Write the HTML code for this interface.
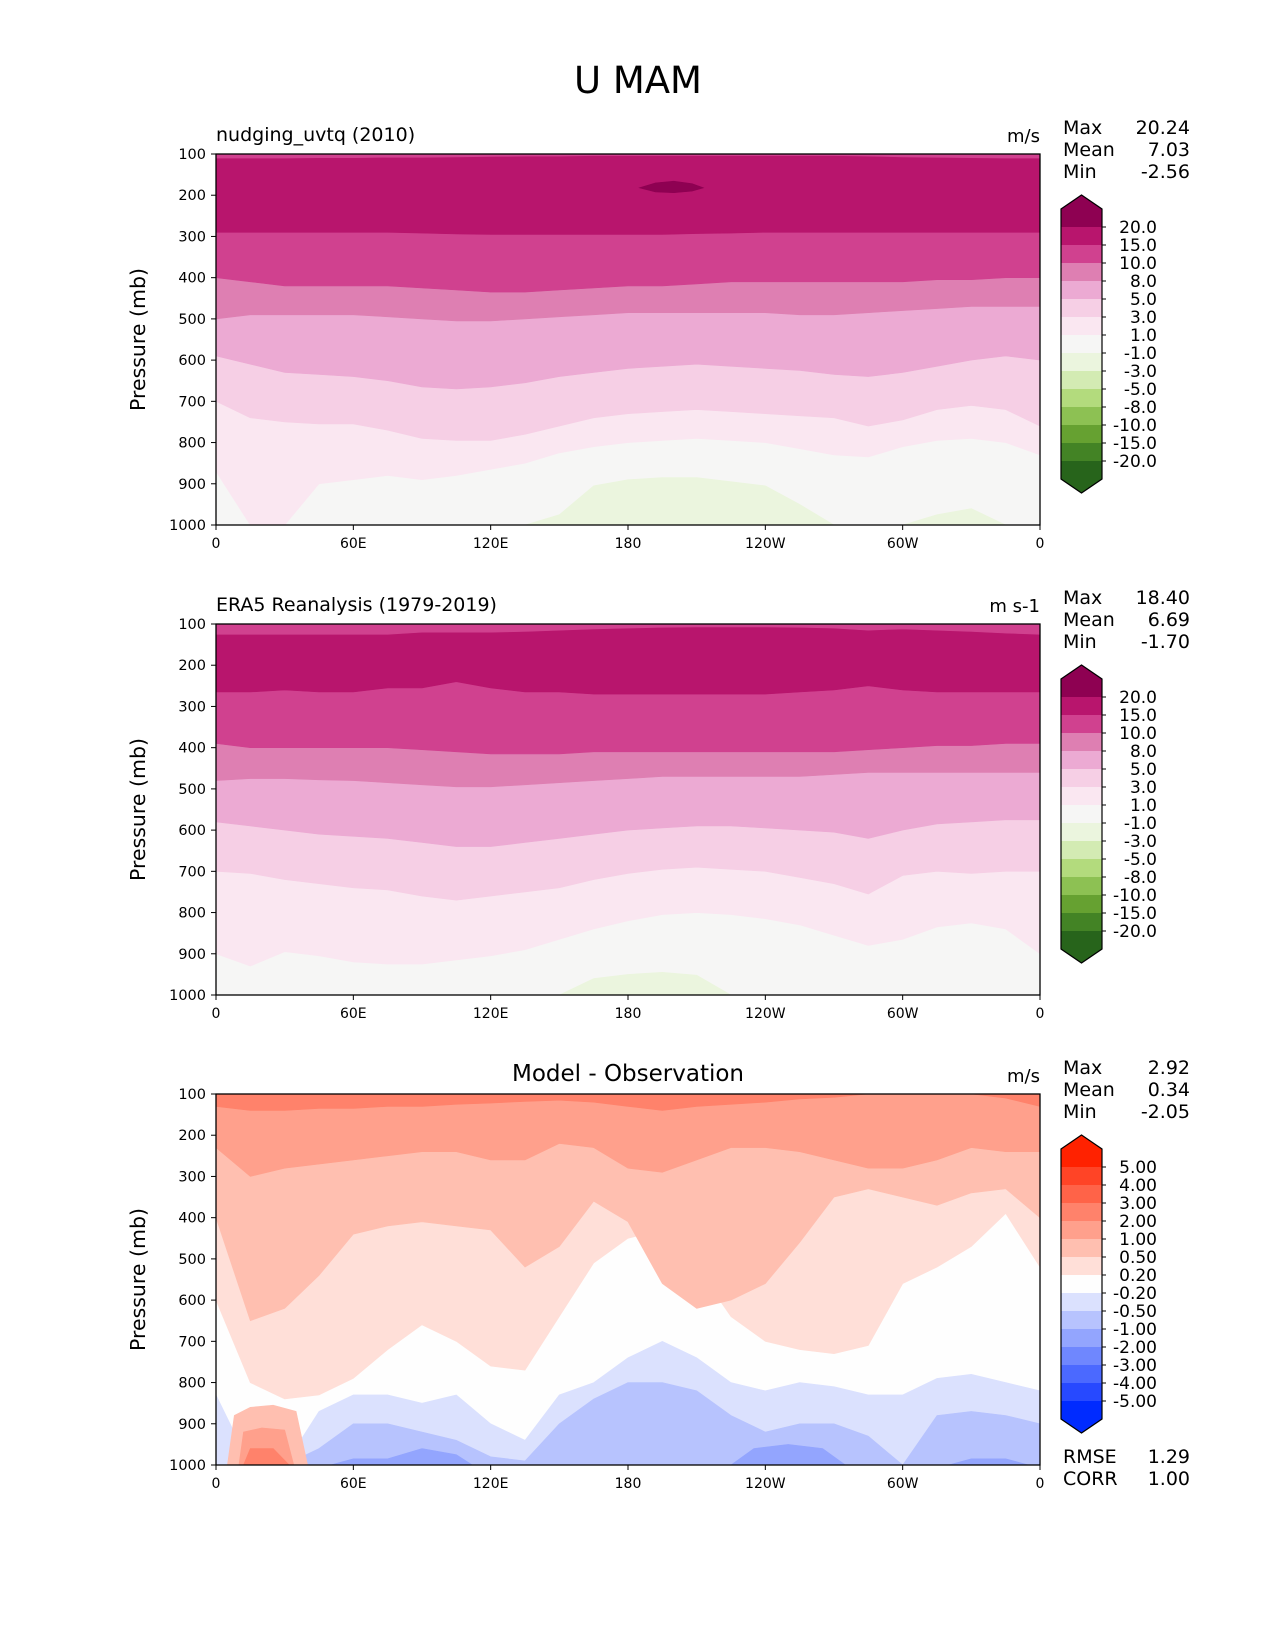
<!DOCTYPE html>
<html><head><meta charset="utf-8"><style>
html,body{margin:0;padding:0;background:#fff}
svg{display:block;font-family:"DejaVu Sans","Liberation Sans",sans-serif}
</style></head><body>
<svg id="fig" width="1275" height="1650" viewBox="0 0 1275 1650" xmlns="http://www.w3.org/2000/svg">
<rect x="0" y="0" width="1275" height="1650" fill="#fff"/>
<text x="638" y="93" font-size="37" text-anchor="middle">U MAM</text>
</svg>
<script>
// ---------- data ----------
const LON15 = [0,15,30,45,60,75,90,105,120,135,150,165,180,195,210,225,240,255,270,285,300,315,330,345,360];
const TOP100 = [100,100,100,100,100,100,100,100,100,100,100,100,100,100,100,100,100,100,100,100,100,100,100,100,100];
const BOT1000 = [1000,1000,1000,1000,1000,1000,1000,1000,1000,1000,1000,1000,1000,1000,1000,1000,1000,1000,1000,1000,1000,1000,1000,1000,1000];

// panel 1: model contours (pressure of each contour at LON15)
const m_green = [1000,1000,1000,1000,1000,1000,1000,1000,1000,1000,975,905,890,885,885,895,905,950,1000,1000,1000,975,960,1000,1000];
const m_c1  = [870,1000,1000,900,890,880,890,880,865,850,825,810,800,795,790,795,800,815,830,835,810,795,790,800,830];
const m_c3  = [700,740,750,755,755,770,790,795,795,780,760,740,730,725,720,725,730,735,740,760,745,720,710,720,760];
const m_c5  = [590,610,630,635,640,650,665,670,665,655,640,630,620,615,610,615,620,625,635,640,630,615,600,590,600];
const m_c8  = [500,490,490,490,490,495,500,505,505,500,495,490,485,485,485,485,485,490,490,485,480,475,470,470,470];
const m_c10 = [400,410,420,420,420,420,425,430,435,435,430,425,420,420,415,410,410,410,410,410,410,405,405,400,400];
const m_c15 = [290,290,290,290,290,290,292,294,295,295,295,295,295,295,293,292,290,290,290,290,290,290,290,290,290];
const m_c15top = [110,110,110,109,109,108,108,107,106,105,105,104,104,104,104,104,104,104,104,105,107,108,109,110,110];
const m_jetLon = [185,192,200,208,213];
const m_jetUp  = [182,170,166,172,182];
const m_jetLow = [182,192,194,190,182];

// panel 2: ERA5 contours
const o_greenLon = [150,165,180,195,210,225];
const o_green = [1000,960,950,945,952,1000];
const o_c1  = [900,930,895,905,920,925,925,915,905,890,865,840,820,805,800,805,815,830,855,880,865,835,825,840,900];
const o_c3  = [700,705,720,730,740,745,760,770,760,750,740,720,705,695,690,695,700,715,730,755,710,700,705,700,700];
const o_c5  = [580,590,600,610,615,620,630,640,640,630,620,610,600,595,590,590,595,600,605,620,600,585,580,575,575];
const o_c8  = [480,475,475,478,480,485,490,495,495,490,485,480,475,470,470,470,470,470,465,460,460,460,460,460,460];
const o_c10 = [390,400,400,400,400,400,405,410,415,415,415,410,410,410,410,410,410,410,410,405,400,395,395,390,390];
const o_c15 = [265,265,260,265,265,255,255,240,255,265,265,270,270,270,270,270,270,265,260,250,260,265,265,265,265];
const o_c15top = [125,125,125,125,125,125,120,120,120,118,115,112,110,108,107,107,107,108,110,115,112,115,118,122,125];

// panel 3: difference contours
const d_c2  = [130,140,140,135,135,130,130,125,122,118,115,120,130,140,130,125,120,112,108,100,100,100,100,110,130];
const d_c1  = [230,300,280,270,260,250,240,240,260,260,220,230,280,290,260,230,230,240,260,280,280,260,230,240,240];
const d_c05 = [400,650,620,540,440,420,410,420,430,520,470,360,410,560,620,600,560,460,350,330,350,370,340,330,400];
const d_c02 = [600,800,840,830,790,720,660,700,760,770,640,510,450,430,520,640,700,720,730,710,560,520,470,390,520];
const d_b02 = [830,1000,1000,870,830,830,850,830,900,940,830,800,740,700,740,800,820,800,810,830,830,790,780,800,820];
const d_b05 = [1000,1000,1000,960,900,900,920,940,980,990,900,840,800,800,820,880,920,900,900,930,1000,880,870,880,900];
const d_b1aLon = [50,60,75,90,105,112];
const d_b1a = [1000,985,985,960,975,1000];
const d_b1bLon = [225,235,250,265,275];
const d_b1b = [1000,960,950,960,1000];
const d_b1cLon = [320,330,345,355];
const d_b1c = [1000,985,985,1000];
const d_r05Lon = [5,8,15,25,35,40];
const d_r05 = [1000,880,860,855,870,1000];
const d_r1Lon = [10,12,20,30,34];
const d_r1 = [1000,920,910,915,1000];
const d_r2Lon = [12,15,25,32];
const d_r2 = [1000,960,960,1000];

// colorbars
const pinkColors = ["#8e0152","#b8156d","#d0418f","#de7fb2","#ecaad3","#f6cfe5","#fae7f1","#f6f6f5","#ebf5de","#d3ebb3","#b3db7d","#8dc153","#66a131","#438325","#27641b"];
const pinkLabels = ["20.0","15.0","10.0","8.0","5.0","3.0","1.0","-1.0","-3.0","-5.0","-8.0","-10.0","-15.0","-20.0"];
const diffColors = ["#ff2200","#ff4426","#ff6348","#ff826b","#ffa08c","#ffbfb0","#ffdfd8","#fefefe","#dbe1fe","#b7c3fe","#93a5fe","#6f87fe","#4b69ff","#2749ff","#002bff"];
const diffLabels = ["5.00","4.00","3.00","2.00","1.00","0.50","0.20","-0.20","-0.50","-1.00","-2.00","-3.00","-4.00","-5.00"];

const yTicks = [100,200,300,400,500,600,700,800,900,1000];
const xTicks = [0,60,120,180,240,300,360];
const xTickLabels = ["0","60E","120E","180","120W","60W","0"];

const statsNames = ["Max","Mean","Min"];
const stats1 = ["20.24","7.03","-2.56"];
const stats2 = ["18.40","6.69","-1.70"];
const stats3 = ["2.92","0.34","-2.05"];
const extraNames = ["RMSE","CORR"];
const extraVals = ["1.29","1.00"];

// ---------- drawing ----------
const NS = "http://www.w3.org/2000/svg";
const svg = document.getElementById("fig");
const X0 = 216, XW = 824, PH = 371;
function px(lon){ return X0 + lon/360*XW; }
function py(p, top){ return top + (p-100)/900*PH; }
function mk(tag, attrs, parent){
  const e = document.createElementNS(NS, tag);
  for (const k in attrs) e.setAttribute(k, attrs[k]);
  (parent||svg).appendChild(e);
  return e;
}
function band(g, top, lons, upper, lower, color, name){
  let d = "";
  for (let i=0;i<lons.length;i++) d += (i?"L":"M") + px(lons[i]).toFixed(1) + "," + py(upper[i],top).toFixed(1);
  for (let i=lons.length-1;i>=0;i--) d += "L" + px(lons[i]).toFixed(1) + "," + py(lower[i],top).toFixed(1);
  d += "Z";
  const p = mk("path", {d:d, fill:color, stroke:color, "stroke-width":"0.6"}, g);
  
  
}
function bottomOf(arr){ return arr.map(()=>1000); }

function panel(idx, top, layers, title, units, centerTitle, colors, labels, statVals, extra){
  const g = mk("g", {});
  
  
  const clipId = "clip"+idx;
  const cp = mk("clipPath", {id:clipId}, g);
  mk("rect", {x:X0, y:top, width:XW, height:PH}, cp);
  const pg = mk("g", {"clip-path":"url(#"+clipId+")"}, g);
  
  
  const bg = mk("rect", {x:X0, y:top, width:XW, height:PH, fill:layers.base}, pg);
  
  
  layers.list.forEach(L => band(pg, top, L[0], L[1], L[2], L[3], L[4]));
  const fr = mk("rect", {x:X0, y:top, width:XW, height:PH, fill:"none", stroke:"#000", "stroke-width":"1.3"}, g);
  
  
  yTicks.forEach(v => {
    const y = py(v, top);
    mk("line", {x1:X0-5, x2:X0, y1:y, y2:y, stroke:"#000", "stroke-width":"1"}, g);
    const t = mk("text", {x:X0-10, y:y+5, "font-size":"14.5", "text-anchor":"end"}, g);
    t.textContent = v;
    
    
  });
  xTicks.forEach((v,i) => {
    const x = px(v);
    mk("line", {x1:x, x2:x, y1:top+PH, y2:top+PH+5, stroke:"#000", "stroke-width":"1"}, g);
    const t = mk("text", {x:x, y:top+PH+23, "font-size":"14", "text-anchor":"middle"}, g);
    t.textContent = xTickLabels[i];
    
    
  });
  const yl = mk("text", {x:0, y:0, "font-size":"20.5", "text-anchor":"middle", transform:"translate(145,"+(top+PH/2)+") rotate(-90)"}, g);
  yl.textContent = "Pressure (mb)";
  
  
  if (title){
    const t = mk("text", {x:X0, y:top-13, "font-size":"19"}, g);
    t.textContent = title;
    
    
  }
  if (centerTitle){
    const t = mk("text", {x:X0+XW/2, y:top-13, "font-size":"23", "text-anchor":"middle"}, g);
    t.textContent = centerTitle;
    
    
  }
  const u = mk("text", {x:X0+XW, y:top-12, "font-size":"18", "text-anchor":"end"}, g);
  u.textContent = units;
  
  
  statsNames.forEach((n,i) => {
    const y = top - 20 + i*22;
    const a = mk("text", {x:1063, y:y, "font-size":"19"}, g);
    a.textContent = n;
    
    
    const b = mk("text", {x:1190, y:y, "font-size":"19", "text-anchor":"end"}, g);
    b.textContent = statVals[i];
    
    
  });
  if (extra){
    extraNames.forEach((n,i) => {
      const y = top + PH - 2 + i*22;
      const a = mk("text", {x:1063, y:y, "font-size":"19"}, g);
      a.textContent = n;
      
      
      const b = mk("text", {x:1190, y:y, "font-size":"19", "text-anchor":"end"}, g);
      b.textContent = extraVals[i];
      
      
    });
  }
  const cb = mk("g", {}, g);
  
  
  const cx0 = 1061, cw = 41, seg = 18;
  const b0 = top + 73;
  const apexTop = b0 - seg - 14, apexBot = b0 + 13*seg + seg + 14;
  const rtop = b0 - seg, rbot = b0 + 14*seg;
  mk("polygon", {points:`${cx0},${rtop} ${cx0+cw/2},${apexTop} ${cx0+cw},${rtop}`, fill:colors[0]}, cb);
  mk("polygon", {points:`${cx0},${rbot} ${cx0+cw/2},${apexBot} ${cx0+cw},${rbot}`, fill:colors[14]}, cb);
  colors.forEach((c,i) => {
    const r = mk("rect", {x:cx0, y:rtop + i*seg, width:cw, height:seg+0.5, fill:c}, cb);
    
    
  });
  mk("polygon", {points:`${cx0},${rtop} ${cx0+cw/2},${apexTop} ${cx0+cw},${rtop} ${cx0+cw},${rbot} ${cx0+cw/2},${apexBot} ${cx0},${rbot}`, fill:"none", stroke:"#000", "stroke-width":"1.2"}, cb);
  labels.forEach((l,i) => {
    const y = b0 + i*seg;
    mk("line", {x1:cx0+cw, x2:cx0+cw+4, y1:y, y2:y, stroke:"#000", "stroke-width":"1"}, cb);
    const t = mk("text", {x:1157, y:y+6, "font-size":"17", "text-anchor":"end"}, cb);
    t.textContent = l;
    
    
  });
}

const P = pinkColors;
panel(1, 154, {base:P[7], list:[
  [LON15, m_green, BOT1000, P[8], "band-neg1"],
  [LON15, TOP100, m_c1, P[6], "band-1-3"],
  [LON15, TOP100, m_c3, P[5], "band-3-5"],
  [LON15, TOP100, m_c5, P[4], "band-5-8"],
  [LON15, TOP100, m_c8, P[3], "band-8-10"],
  [LON15, TOP100, m_c10, P[2], "band-10-15"],
  [LON15, TOP100, m_c15, P[1], "band-15-20"],
  [LON15, TOP100, m_c15top, P[2], "band-top-10-15"],
  [m_jetLon, m_jetUp, m_jetLow, P[0], "band-20-plus"]
]}, "nudging_uvtq (2010)", "m/s", null, pinkColors, pinkLabels, stats1, false);

panel(2, 624, {base:P[7], list:[
  [o_greenLon, o_green, bottomOf(o_green), P[8], "band-neg1"],
  [LON15, TOP100, o_c1, P[6], "band-1-3"],
  [LON15, TOP100, o_c3, P[5], "band-3-5"],
  [LON15, TOP100, o_c5, P[4], "band-5-8"],
  [LON15, TOP100, o_c8, P[3], "band-8-10"],
  [LON15, TOP100, o_c10, P[2], "band-10-15"],
  [LON15, TOP100, o_c15, P[1], "band-15-20"],
  [LON15, TOP100, o_c15top, P[2], "band-top-10-15"]
]}, "ERA5 Reanalysis (1979-2019)", "m s-1", null, pinkColors, pinkLabels, stats2, false);

const D = diffColors;
panel(3, 1094, {base:D[7], list:[
  [LON15, TOP100, d_c02, D[6], "band-0.2-0.5"],
  [LON15, TOP100, d_c05, D[5], "band-0.5-1"],
  [LON15, TOP100, d_c1, D[4], "band-1-2"],
  [LON15, TOP100, d_c2, D[3], "band-2-3"],
  [LON15, d_b02, BOT1000, D[8], "band-neg0.2"],
  [LON15, d_b05, BOT1000, D[9], "band-neg0.5"],
  [d_b1aLon, d_b1a, bottomOf(d_b1a), D[10], "band-neg1-a"],
  [d_b1bLon, d_b1b, bottomOf(d_b1b), D[10], "band-neg1-b"],
  [d_b1cLon, d_b1c, bottomOf(d_b1c), D[10], "band-neg1-c"],
  [d_r05Lon, d_r05, bottomOf(d_r05), D[5], "band-bottom-0.5"],
  [d_r1Lon, d_r1, bottomOf(d_r1), D[4], "band-bottom-1"],
  [d_r2Lon, d_r2, bottomOf(d_r2), D[3], "band-bottom-2"]
]}, null, "m/s", "Model - Observation", diffColors, diffLabels, stats3, true);
</script>
</body></html>
